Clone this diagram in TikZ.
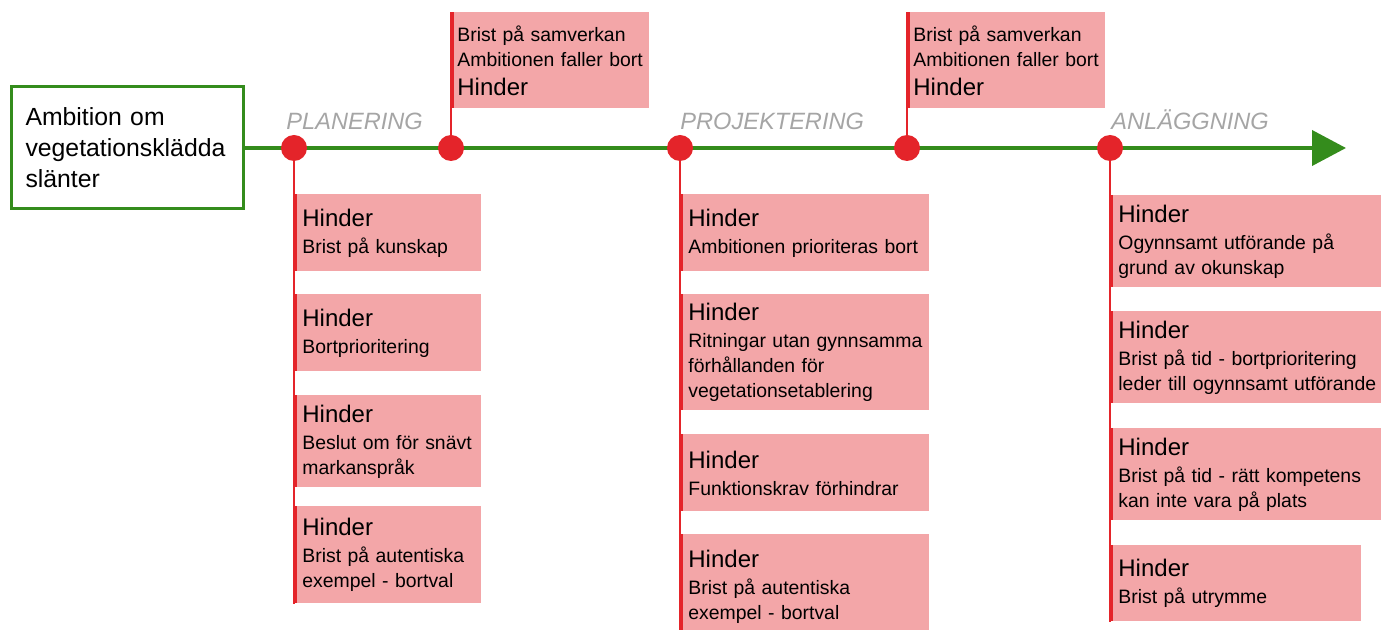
\documentclass[tikz,border=0pt]{standalone}
\usepackage{fontspec}
\setmainfont{Liberation Sans}
\usetikzlibrary{arrows.meta}

\definecolor{hpink}{RGB}{243,166,168}
\definecolor{hred}{RGB}{228,36,42}
\definecolor{hgreen}{RGB}{52,140,28}
\definecolor{hgray}{RGB}{165,165,165}
\newcommand{\hnd}{{\fontsize{12}{13.5}\selectfont Hinder}}

\tikzset{
	hbox/.style={anchor=north west, fill=hpink, align=left, inner xsep=4pt, inner ysep=3pt,
		font=\fontsize{9.7}{12.5}\selectfont,
		path picture={\fill[hred] (path picture bounding box.north west) rectangle ([xshift=1.5pt]path picture bounding box.south west);}},
	dot/.style={circle, fill=hred, minimum size=13pt, inner sep=0pt},
	stem/.style={hred, line width=0.75pt},
	phase/.style={anchor=base west, inner sep=0pt, text=hgray, font=\fontsize{11.8}{14}\selectfont\itshape},
}

\begin{document}
\begin{tikzpicture}[x=0.5pt,y=-0.5pt]
	\clip (0,0) rectangle (1381,630);
	
	% ambition and time line
	\node[draw=hgreen, line width=1.5pt, anchor=west, align=left, text width=102pt, inner xsep=7pt,
		minimum height=61pt, font=\fontsize{12.4}{15.5}\selectfont] (amb) at (10,148) {Ambition om\\vegetationsklädda\\slänter};
	\coordinate (tlend) at (1346,148);
	\draw[hgreen, line width=2pt, -{Triangle[length=17pt,width=17.5pt]}] (amb.east) -- (tlend);
	
	\node[phase] (lplan) at (286,130) {PLANERING};
	\node[phase] (lproj) at (680,130) {PROJEKTERING};
	\node[phase] (lanl) at (1111,130) {ANLÄGGNING};
	
	% planering
	\node[hbox, text width=85.5pt, minimum height=38.5pt] (p1) at (294,194) {\hnd\\[1pt]Brist på kunskap};
	\node[hbox, text width=85.5pt, minimum height=38.5pt] (p2) at (294,294) {\hnd\\[1pt]Bortprioritering};
	\node[hbox, text width=85.5pt, minimum height=46pt] (p3) at (294,395) {\hnd\\[1pt]Beslut om för snävt\\markanspråk};
	\node[hbox, text width=85.5pt, minimum height=48.5pt] (p4) at (294,506) {\hnd\\[1pt]Brist på autentiska\\exempel - bortval};
	
	% samverkan
	\node[hbox, text width=93pt, inner xsep=3pt, minimum height=48pt] (t1) at (451,12) {Brist på samverkan\\Ambitionen faller bort\\[2pt]\hnd};
	\node[hbox, text width=93pt, inner xsep=3pt, minimum height=48pt] (t2) at (907,12) {Brist på samverkan\\Ambitionen faller bort\\[2pt]\hnd};
	
	% projektering
	\node[hbox, text width=116.5pt, minimum height=38.5pt] (r1) at (680,194) {\hnd\\[1pt]Ambitionen prioriteras bort};
	\node[hbox, text width=116.5pt, minimum height=58pt] (r2) at (680,294) {\hnd\\[1pt]\mbox{Ritningar utan gynnsamma}\\förhållanden för\\vegetationsetablering};
	\node[hbox, text width=116.5pt, minimum height=38.5pt] (r3) at (680,434) {\hnd\\[1pt]Funktionskrav förhindrar};
	\node[hbox, text width=116.5pt, minimum height=52pt] (r4) at (680,534) {\hnd\\[1pt]Brist på autentiska\\exempel - bortval};
	
	% anläggning
	\node[hbox, text width=132pt, minimum height=46pt] (a1) at (1110,195) {\hnd\\[1pt]Ogynnsamt utförande på\\grund av okunskap};
	\node[hbox, text width=152pt, minimum height=46pt] (a2) at (1110,311) {\hnd\\[1pt]Brist på tid - bortprioritering\\leder till ogynnsamt utförande};
	\node[hbox, text width=132pt, minimum height=46pt] (a3) at (1110,428) {\hnd\\[1pt]Brist på tid - rätt kompetens\\kan inte vara på plats};
	\node[hbox, text width=117.5pt, minimum height=38pt] (a4) at (1110,545) {\hnd\\[1pt]Brist på utrymme};
	
	% stems and dots
	\node[dot] (d1) at (294,148) {};
	\node[dot] (d2) at (451,148) {};
	\node[dot] (d3) at (680,148) {};
	\node[dot] (d4) at (907,148) {};
	\node[dot] (d5) at (1110,148) {};
	\draw[stem] (d1.center) -- (p4.south west);
	\draw[stem] (d2.center) -- (t1.north west);
	\draw[stem] (d3.center) -- (r4.south west);
	\draw[stem] (d4.center) -- (t2.north west);
	\draw[stem] (d5.center) -- (a4.south west);
\end{tikzpicture}
\end{document}
